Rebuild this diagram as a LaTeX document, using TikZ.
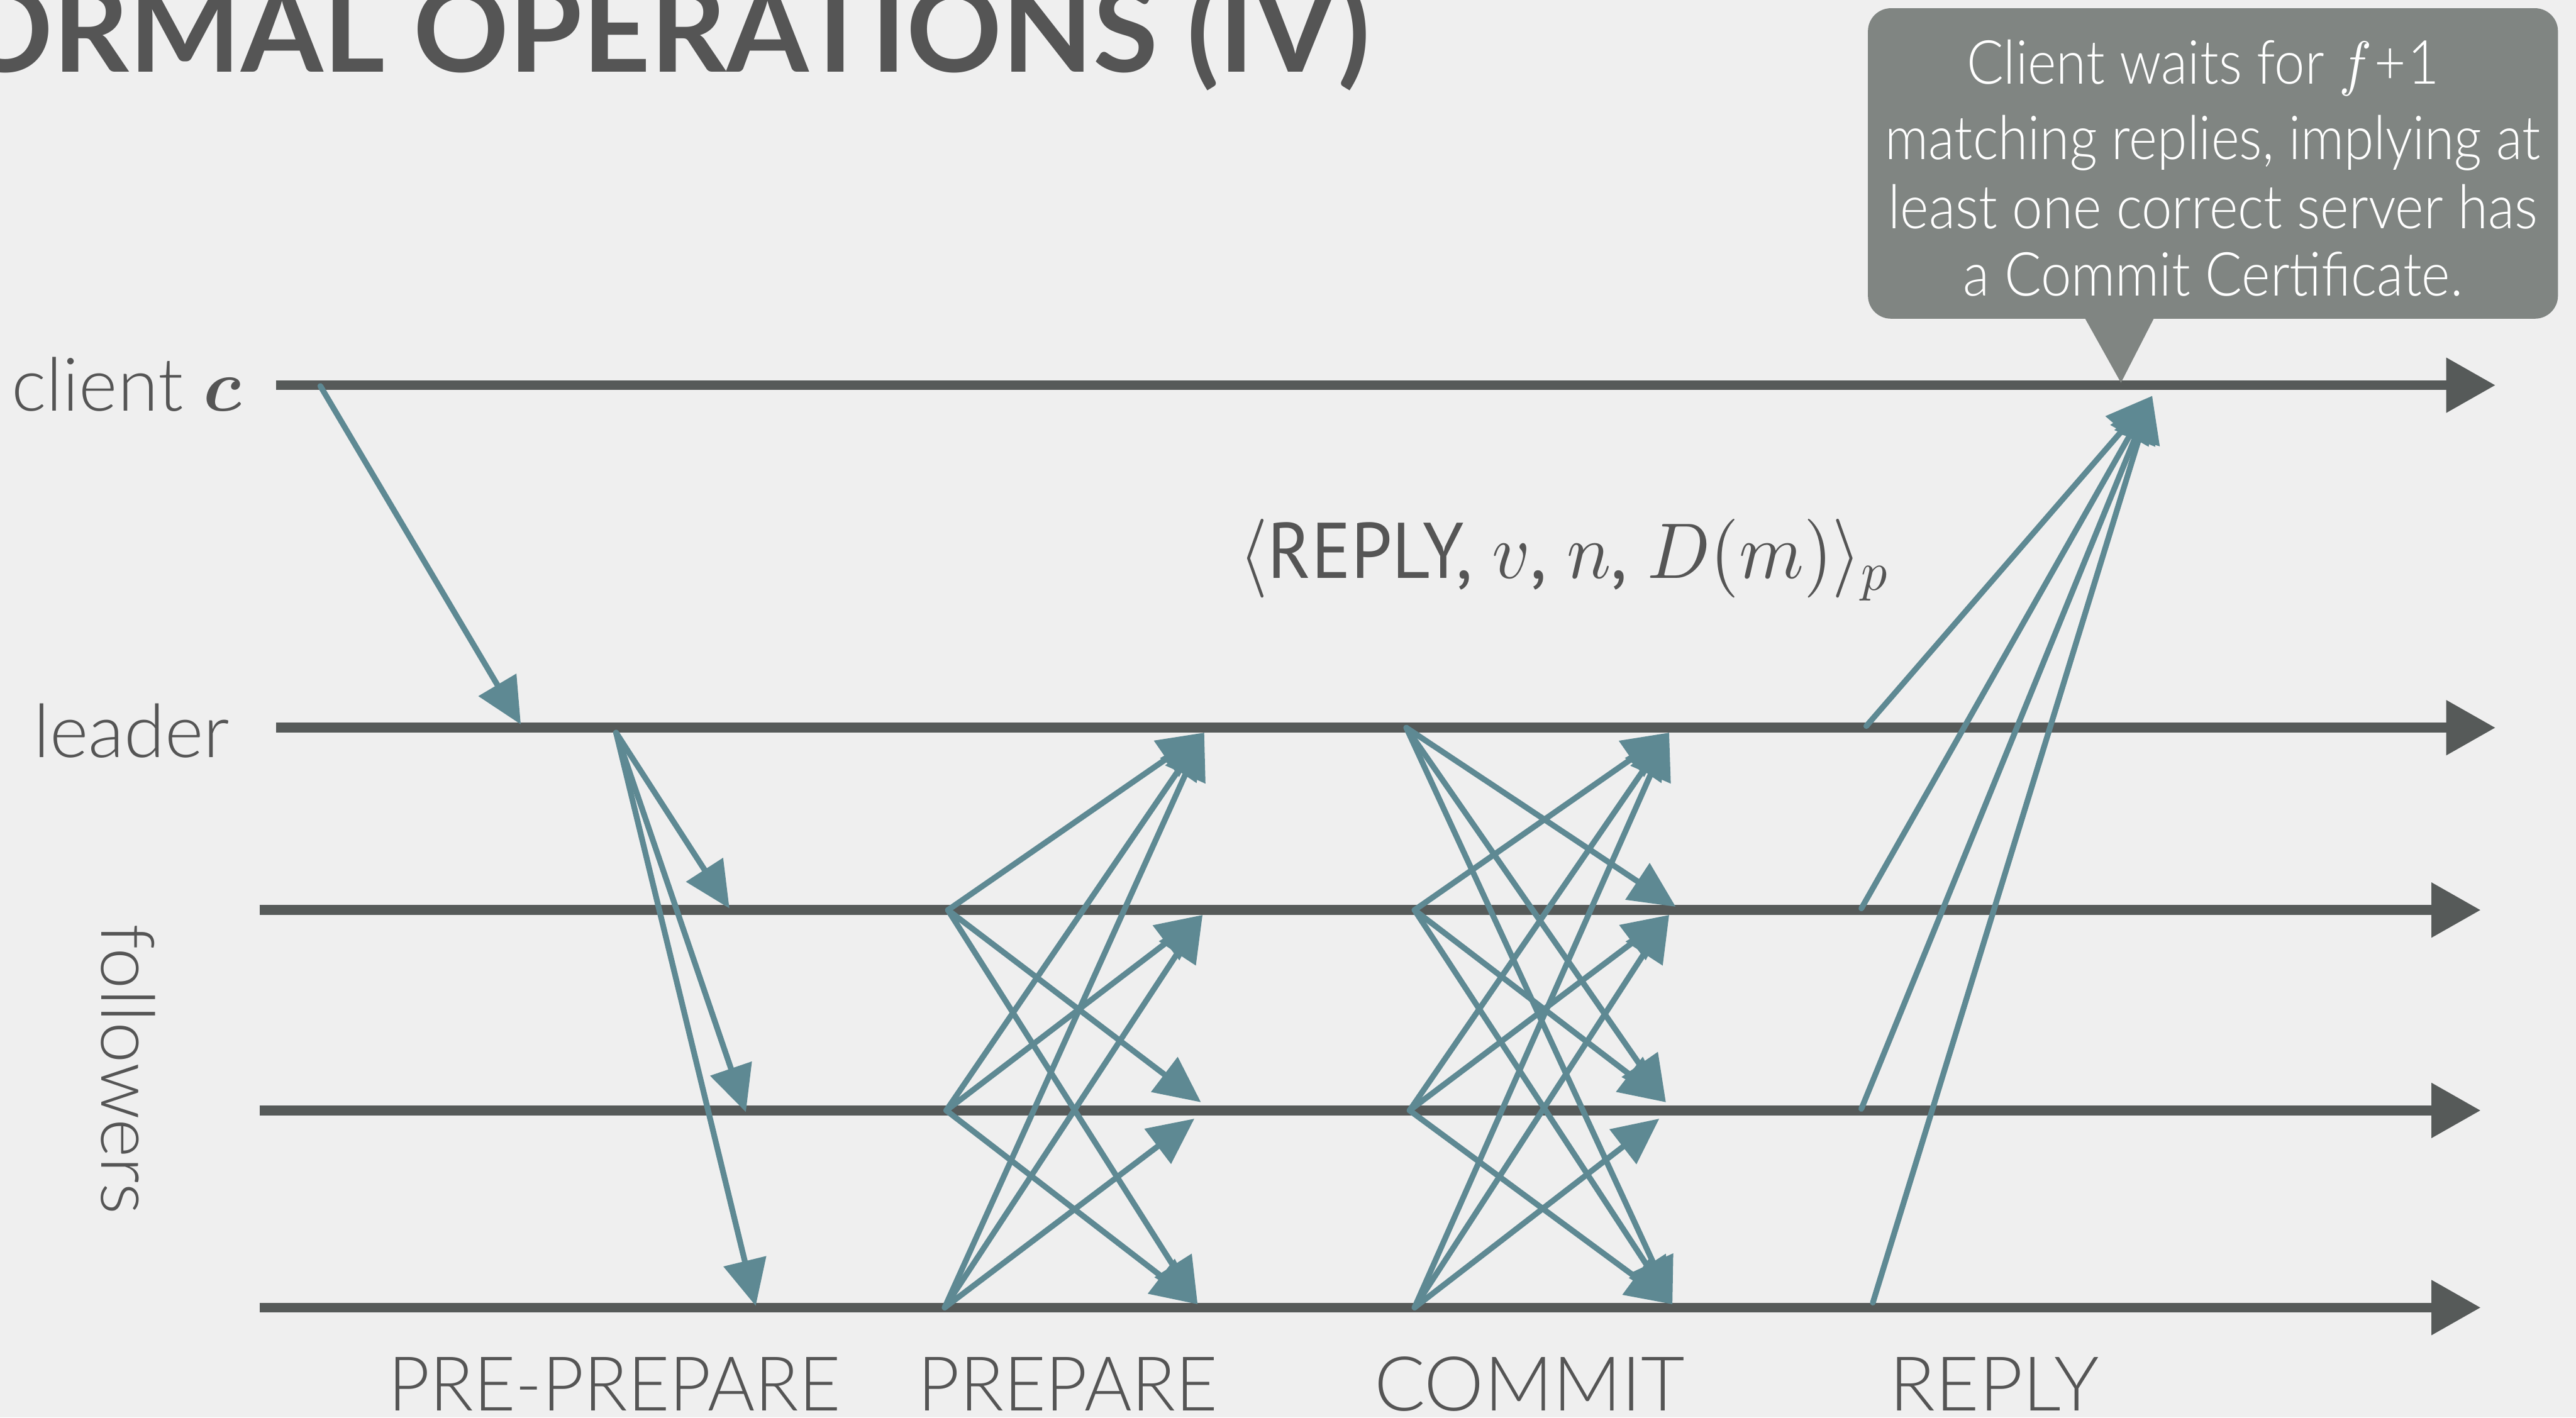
\documentclass[tikz,border=0pt]{standalone}
\usepackage{fontspec}
\usetikzlibrary{arrows.meta}
\DeclareFontShape{OML}{cmm}{m}{it}{<->cmmi10}{}
\DeclareFontShape{OML}{cmm}{b}{it}{<->cmmib10}{}
\DeclareFontShape{OMS}{cmsy}{m}{n}{<->cmsy10}{}
\DeclareFontShape{OMS}{cmsy}{b}{n}{<->cmbsy10}{}
\DeclareFontShape{OT1}{cmr}{m}{n}{<->cmr10}{}
\DeclareFontShape{OT1}{cmr}{bx}{n}{<->cmbx10}{}
\IfFontExistsTF{Lato Light}{\newfontfamily\lightfont{Lato Light}}{\newfontfamily\lightfont{Lato}}
\newfontfamily\latofont{Lato}
\newfontfamily\ptfont{PT Sans}
\definecolor{bgpaper}{RGB}{239,239,239}
\definecolor{inkgray}{RGB}{86,90,89}
\definecolor{textgray}{RGB}{85,85,85}
\definecolor{msgteal}{RGB}{94,137,147}
\definecolor{calloutgray}{RGB}{128,133,130}
\begin{document}
\begin{tikzpicture}[x=1pt,y=-1pt,
  timeline/.style={draw=inkgray, line width=6pt, -{Triangle[length=30pt,width=32pt]}},
  msg/.style={draw=msgteal, line width=3.5pt, line cap=round, -{Triangle[length=28pt,width=26pt]}},
  lbl/.style={text=textgray, inner sep=0pt, font=\lightfont\fontsize{45}{54}\selectfont},
  phase/.style={text=textgray, inner sep=0pt, anchor=base, font=\lightfont\fontsize{46}{55}\selectfont},
  calltext/.style={text=white, inner sep=0pt, anchor=base, xscale=0.9, font=\lightfont\fontsize{37}{44}\selectfont},
]
\fill[bgpaper] (0,0) rectangle (1568,863);
\useasboundingbox (0,0) rectangle (1568,863);

% title
\node[anchor=base east, text=textgray, inner sep=0pt, font=\latofont\bfseries\fontsize{72}{84}\selectfont] (title) at (834,44) {ORMAL OPERATIONS (IV)};

% row labels
\node[lbl, anchor=base east] (lclient) at (147,250) {client {\boldmath$c$}};
\node[lbl, anchor=base] (lleader) at (80,461) {leader};
\node[lbl, anchor=base, rotate=-90] (lfollow) at (62,651) {followers};

% timelines
\coordinate (cS) at (168,234.5); \coordinate (cE) at (1519,234.5);
\coordinate (lS) at (168,443);   \coordinate (lE) at (1519,443);
\coordinate (aS) at (158,554);   \coordinate (aE) at (1510,554);
\coordinate (bS) at (158,676);   \coordinate (bE) at (1510,676);
\coordinate (dS) at (158,796);   \coordinate (dE) at (1510,796);
\draw[timeline] (cS) -- (cE);
\draw[timeline] (lS) -- (lE);
\draw[timeline] (aS) -- (aE);
\draw[timeline] (bS) -- (bE);
\draw[timeline] (dS) -- (dE);

% request
\coordinate (rq0) at (195,235); \coordinate (rq1) at (317,441);
\draw[msg] (rq0) -- (rq1);

% pre-prepare
\coordinate (pp0) at (375,446);
\coordinate (pp1) at (444,553); \coordinate (pp2) at (454,677); \coordinate (pp3) at (460,795);
\draw[msg] (pp0) -- (pp1);
\draw[msg] (pp0) -- (pp2);
\draw[msg] (pp0) -- (pp3);

% prepare
\coordinate (pa1) at (577,554); \coordinate (pa2) at (576,676); \coordinate (pa3) at (575,796);
\coordinate (paL) at (733,446); \coordinate (paF1) at (732,557);
\coordinate (paF2a) at (731,671); \coordinate (paF2b) at (727,681); \coordinate (paF3) at (729,794);
\draw[msg] (pa1) -- (paL);
\draw[msg] (pa1) -- (paF2a);
\draw[msg] (pa1) -- (paF3);
\draw[msg] (pa2) -- (paL);
\draw[msg] (pa2) -- (paF1);
\draw[msg] (pa2) -- (paF3);
\draw[msg] (pa3) -- (paL);
\draw[msg] (pa3) -- (paF1);
\draw[msg] (pa3) -- (paF2b);

% commit
\coordinate (cm0) at (856,443); \coordinate (cm1) at (861,554); \coordinate (cm2) at (858,676); \coordinate (cm3) at (861,796);
\coordinate (cmL) at (1016,446);
\coordinate (cmF1a) at (1020,552); \coordinate (cmF1b) at (1016,557);
\coordinate (cmF2a) at (1014,671); \coordinate (cmF2b) at (1010,681);
\coordinate (cmF3) at (1018,794);
\draw[msg] (cm0) -- (cmF1a);
\draw[msg] (cm0) -- (cmF2a);
\draw[msg] (cm0) -- (cmF3);
\draw[msg] (cm1) -- (cmL);
\draw[msg] (cm1) -- (cmF2a);
\draw[msg] (cm1) -- (cmF3);
\draw[msg] (cm2) -- (cmL);
\draw[msg] (cm2) -- (cmF1b);
\draw[msg] (cm2) -- (cmF3);
\draw[msg] (cm3) -- (cmL);
\draw[msg] (cm3) -- (cmF1b);
\draw[msg] (cm3) -- (cmF2b);

% reply
\coordinate (rp0) at (1136,442); \coordinate (rp1) at (1133,553);
\coordinate (rp2) at (1133,675); \coordinate (rp3) at (1140,793);
\coordinate (rpC) at (1310,241);
\draw[msg] (rp0) -- (rpC);
\draw[msg] (rp1) -- (rpC);
\draw[msg] (rp2) -- (rpC);
\draw[msg] (rp3) -- (rpC);

% message format
\node[anchor=base west, text=textgray, inner sep=0pt, xscale=0.935, font=\ptfont\fontsize{48}{58}\selectfont] (rlabel) at (754,352) {$\langle$REPLY, $v$, $n$, $D(m)\rangle_p$};

% phase labels
\node[phase, xscale=0.955] (ph1) at (374,859) {PRE-PREPARE};
\node[phase, xscale=0.96] (ph2) at (650,859) {PREPARE};
\node[phase] (ph3) at (931,859) {COMMIT};
\node[phase] (ph4) at (1214,859) {REPLY};

% callout
\node[fill=calloutgray, rounded corners=14pt, minimum width=420pt, minimum height=189pt, inner sep=0pt] (note) at (1347,99.5) {};
\fill[calloutgray] (1267,190) -- (1313,190) -- (1291,233) -- cycle;
\node[calltext] (t1) at (1341,51) {Client waits for $f$\kern2pt+\kern1pt1};
\node[calltext, xscale=0.985] (t2) at (1347,97) {matching replies, implying at};
\node[calltext] (t3) at (1347,139) {least one correct server has};
\node[calltext] (t4) at (1347,180) {a Commit Certificate.};
\end{tikzpicture}
\end{document}
